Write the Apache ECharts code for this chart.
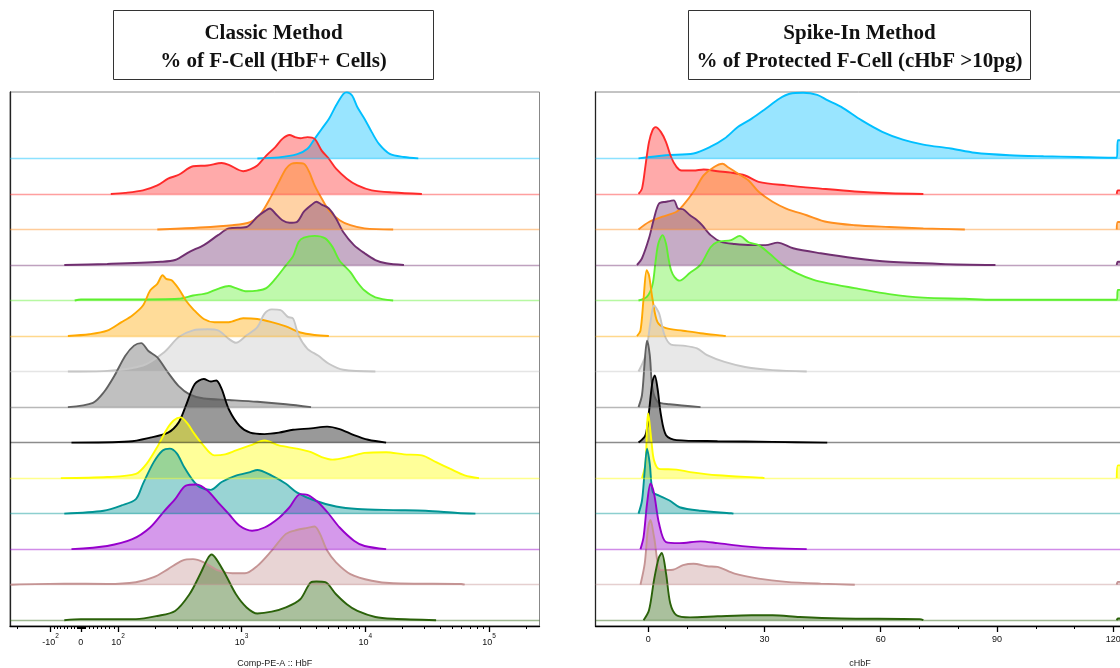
<!DOCTYPE html>
<html>
<head>
<meta charset="utf-8">
<script src="https://cdn.jsdelivr.net/npm/echarts@6/dist/echarts.min.js"></script>
<style>
html,body{margin:0;padding:0;background:#fff;}
#chart{width:1120px;height:668px;}
</style>
</head>
<body>
<div id="chart"></div>
<script>
// ---------- DATA ----------
// Sample order (top to bottom) and colours shared by both panels
const sampleColors = ['#00bfff','#ff2a2a','#ff8f1f','#702f70','#5ff030','#ffa800','#c6c6c6','#616161','#000000','#ffff00','#009494','#9600cc','#c59494','#2b620a'];

// Classic method: x = display position in decades (biexponential HbF axis), y = relative height
const classicCyan = [[3.127,0],[3.30,0.03],[3.45,0.12],[3.532,0.27],[3.590,0.55],[3.647,0.83],[3.705,1.11],[3.763,1.49],[3.821,1.81],[3.850,1.86],[3.893,1.77],[3.936,1.44],[3.994,1.11],[4.052,0.74],[4.110,0.41],[4.197,0.13],[4.312,0.04],[4.428,0]];
const classicRed = [[1.942,0],[2.058,0.03],[2.202,0.1],[2.318,0.24],[2.405,0.43],[2.491,0.54],[2.607,0.78],[2.723,0.80],[2.838,0.87],[2.896,0.82],[3.012,0.64],[3.069,0.69],[3.127,0.80],[3.199,1.08],[3.272,1.32],[3.329,1.55],[3.387,1.66],[3.431,1.60],[3.474,1.57],[3.532,1.60],[3.590,1.55],[3.647,1.22],[3.705,0.99],[3.763,0.71],[3.850,0.43],[3.936,0.24],[4.052,0.10],[4.225,0.04],[4.457,0]];
const classicOrange = [[2.318,0],[2.636,0.05],[2.925,0.12],[3.069,0.21],[3.156,0.45],[3.243,0.96],[3.301,1.34],[3.358,1.71],[3.402,1.85],[3.445,1.87],[3.503,1.85],[3.546,1.62],[3.590,1.24],[3.647,0.87],[3.705,0.54],[3.792,0.26],[3.879,0.12],[3.994,0.03],[4.225,0]];
const classicPurple = [[1.566,0],[1.913,0.03],[2.347,0.09],[2.462,0.14],[2.578,0.37],[2.694,0.56],[2.809,0.84],[2.896,1.03],[3.040,1.07],[3.127,1.36],[3.185,1.51],[3.228,1.59],[3.272,1.45],[3.329,1.26],[3.387,1.19],[3.445,1.21],[3.503,1.50],[3.561,1.68],[3.604,1.78],[3.647,1.70],[3.705,1.59],[3.763,1.31],[3.821,0.93],[3.908,0.56],[3.994,0.33],[4.081,0.14],[4.168,0.05],[4.312,0]];
const classicGreen = [[1.65,0],[1.70,0.03],[1.80,0.03],[2.10,0.03],[2.491,0.05],[2.607,0.14],[2.723,0.21],[2.809,0.33],[2.896,0.41],[2.954,0.35],[3.040,0.26],[3.127,0.28],[3.199,0.35],[3.272,0.61],[3.358,0.99],[3.416,1.25],[3.460,1.65],[3.503,1.77],[3.590,1.82],[3.676,1.75],[3.734,1.51],[3.792,1.12],[3.879,0.80],[3.936,0.51],[3.994,0.28],[4.081,0.09],[4.225,0]];
const classicGold = [[1.595,0],[1.769,0.05],[1.913,0.15],[2.029,0.39],[2.116,0.58],[2.202,0.86],[2.260,1.28],[2.318,1.47],[2.361,1.71],[2.390,1.61],[2.434,1.57],[2.491,1.33],[2.549,1.0],[2.607,0.76],[2.694,0.48],[2.780,0.39],[2.896,0.39],[3.012,0.50],[3.127,0.48],[3.243,0.39],[3.358,0.27],[3.474,0.10],[3.590,0.03],[3.705,0]];
const classicLightGray = [[1.595,0],[1.913,0.02],[2.202,0.17],[2.376,0.55],[2.491,0.97],[2.607,1.16],[2.723,1.19],[2.809,1.16],[2.896,0.92],[2.954,0.81],[3.040,1.02],[3.127,1.25],[3.185,1.63],[3.243,1.75],[3.315,1.73],[3.373,1.54],[3.416,1.49],[3.460,1.02],[3.532,0.64],[3.618,0.45],[3.705,0.22],[3.821,0.05],[4.081,0]];
const classicGray = [[1.595,0],[1.798,0.12],[1.884,0.41],[1.971,0.88],[2.058,1.44],[2.130,1.73],[2.188,1.80],[2.246,1.58],[2.318,1.40],[2.405,0.97],[2.491,0.59],[2.578,0.36],[2.694,0.24],[2.896,0.20],[3.127,0.15],[3.358,0.08],[3.561,0]];
const classicBlack = [[1.624,0],[2.087,0.03],[2.260,0.14],[2.405,0.28],[2.491,0.57],[2.549,1.04],[2.621,1.65],[2.694,1.79],[2.751,1.72],[2.795,1.75],[2.838,1.51],[2.896,0.94],[2.983,0.47],[3.069,0.28],[3.185,0.24],[3.301,0.28],[3.416,0.36],[3.561,0.40],[3.691,0.45],[3.792,0.38],[3.908,0.21],[4.023,0.08],[4.168,0]];
const classicYellow = [[1.538,0],[1.913,0.03],[2.145,0.12],[2.231,0.40],[2.318,0.88],[2.390,1.35],[2.45,1.62],[2.506,1.71],[2.56,1.55],[2.607,1.30],[2.679,0.97],[2.780,0.64],[2.867,0.67],[2.954,0.78],[3.069,0.92],[3.185,1.06],[3.301,0.92],[3.445,0.83],[3.561,0.73],[3.647,0.59],[3.734,0.52],[3.879,0.61],[3.994,0.71],[4.168,0.73],[4.312,0.67],[4.457,0.64],[4.572,0.45],[4.688,0.26],[4.803,0.08],[4.919,0]];
const classicTeal = [[1.566,0],[1.884,0.08],[2.029,0.23],[2.145,0.41],[2.202,0.84],[2.289,1.45],[2.361,1.78],[2.419,1.83],[2.477,1.69],[2.535,1.31],[2.607,0.93],[2.665,0.74],[2.751,0.67],[2.838,0.89],[2.954,1.07],[3.069,1.17],[3.127,1.23],[3.243,1.07],[3.358,0.84],[3.445,0.60],[3.590,0.37],[3.763,0.20],[3.936,0.13],[4.225,0.10],[4.486,0.08],[4.746,0.02],[4.890,0]];
const classicViolet = [[1.624,0],[1.913,0.09],[2.116,0.28],[2.260,0.61],[2.376,1.08],[2.462,1.41],[2.549,1.79],[2.636,1.82],[2.723,1.65],[2.809,1.32],[2.896,0.99],[2.983,0.66],[3.084,0.52],[3.185,0.61],[3.301,0.88],[3.387,1.18],[3.474,1.55],[3.532,1.53],[3.618,1.32],[3.705,0.99],[3.792,0.61],[3.908,0.24],[3.994,0.09],[4.168,0]];
const classicRosy = [[1.133,0],[1.566,0.03],[1.913,0.02],[2.145,0.07],[2.289,0.21],[2.405,0.44],[2.520,0.68],[2.607,0.72],[2.694,0.63],[2.809,0.40],[2.925,0.32],[3.026,0.32],[3.127,0.53],[3.243,0.96],[3.358,1.43],[3.445,1.54],[3.532,1.60],[3.590,1.64],[3.633,1.43],[3.691,0.96],[3.763,0.63],[3.879,0.30],[4.052,0.11],[4.225,0.04],[4.775,0.02],[4.803,0]];
const classicOlive = [[1.566,0],[1.70,0.03],[2.145,0.03],[2.318,0.12],[2.462,0.26],[2.578,0.73],[2.665,1.30],[2.723,1.72],[2.757,1.85],[2.795,1.72],[2.867,1.30],[2.954,0.73],[3.040,0.36],[3.127,0.19],[3.243,0.24],[3.358,0.36],[3.474,0.59],[3.561,1.07],[3.604,1.09],[3.676,1.07],[3.763,0.73],[3.850,0.45],[3.936,0.26],[4.081,0.09],[4.225,0.04],[4.572,0]];

// Spike-in method: x = cHbF (pg), y = relative height
const spikeCyan = [[-2.5,0],[4.6,0.09],[11.7,0.14],[16.1,0.33],[19.7,0.56],[23.2,0.89],[26.7,1.12],[30.3,1.40],[33.8,1.68],[36.5,1.82],[40.0,1.85],[43.6,1.79],[46.2,1.64],[49.8,1.45],[55.1,1.07],[60.4,0.75],[65.7,0.53],[71.0,0.39],[78.1,0.28],[84.3,0.16],[93.2,0.09],[102.0,0.06],[110.9,0.04],[119.8,0.02],[120.9,0.02],[121.2,0.51],[123,0.51]];
const spikeRed = [[-2.5,0],[-1.6,0.15],[-0.7,0.80],[0.2,1.46],[1.1,1.79],[1.9,1.88],[3.3,1.74],[4.6,1.46],[5.9,1.04],[7.3,0.76],[8.6,0.66],[11.7,0.66],[14.3,0.69],[17.9,0.64],[21.4,0.60],[25.0,0.52],[28.5,0.34],[35.6,0.24],[44.5,0.15],[53.3,0.07],[62.2,0.02],[71.0,0],[120.9,0],[121.2,0.1],[123,0.1]];
const spikeOrange = [[-2.5,0],[0.2,0.21],[3.7,0.36],[7.3,0.50],[9.0,0.68],[11.7,1.06],[14.3,1.52],[17.0,1.76],[19.2,1.85],[20.5,1.76],[23.2,1.57],[25.9,1.38],[28.5,1.06],[32.1,0.78],[35.6,0.59],[40.9,0.40],[46.2,0.21],[53.3,0.12],[62.2,0.07],[71.0,0.03],[81.7,0],[120.9,0],[121.2,0.21],[123,0.21]];
const spikePurple = [[-2.9,0],[-1.6,0.19],[0.2,0.75],[1.5,1.31],[2.8,1.73],[4.6,1.78],[6.6,1.82],[7.7,1.59],[9.0,1.57],[10.8,1.40],[12.6,1.26],[13.9,1.12],[16.1,0.84],[18.8,0.65],[22.3,0.59],[26.7,0.56],[30.3,0.56],[33.4,0.63],[37.4,0.47],[44.5,0.33],[53.3,0.19],[62.2,0.09],[75.5,0.03],[89.6,0],[120.9,0],[121.2,0.09],[123,0.09]];
const spikeGreen = [[-2.5,0],[-0.3,0.11],[1.1,0.44],[1.9,1.1],[2.6,1.6],[3.7,1.84],[4.6,1.6],[5.2,1.2],[5.9,0.85],[6.8,0.66],[8.1,0.56],[10.8,0.78],[13.5,1.01],[16.1,1.50],[17.9,1.65],[21.4,1.70],[23.6,1.82],[25.9,1.64],[28.5,1.56],[31.2,1.33],[34.7,1.0],[38.3,0.77],[42.7,0.58],[46.2,0.49],[53.3,0.35],[62.2,0.18],[71.0,0.08],[81.7,0.05],[88.8,0.02],[120.9,0.02],[121.2,0.3],[123,0.3]];
const spikeGold = [[-2.9,0],[-2.0,0.15],[-1.2,1.05],[-0.4,1.85],[0.2,1.71],[1.1,1.05],[2.4,0.39],[4.6,0.22],[9.0,0.15],[13.5,0.08],[19.2,0.01],[20,0]];
const spikeLightGray = [[-2.5,0],[-0.7,0.46],[0.6,1.40],[1.5,1.86],[2.8,1.64],[4.2,1.03],[5.9,0.76],[9.0,0.73],[12.6,0.65],[15.2,0.46],[19.7,0.27],[25.0,0.13],[32.1,0.04],[40.9,0]];
const spikeGray = [[-2.5,0],[-1.6,0.34],[-0.9,1.28],[-0.3,1.87],[0.4,1.47],[1.1,0.53],[2.4,0.15],[5.5,0.08],[13.5,0]];
const spikeBlack = [[-2.5,0],[-0.7,0.21],[0.2,0.87],[1.1,1.72],[1.7,1.89],[2.4,1.53],[3.3,0.77],[4.6,0.21],[7.3,0.07],[17.9,0.04],[32.1,0.02],[46.2,0]];
const spikeYellow = [[-1.6,0],[-0.7,0.41],[-0.3,1.5],[0.0,1.82],[0.3,1.6],[0.9,0.97],[1.5,0.50],[2.8,0.26],[7.3,0.24],[10.8,0.17],[17.9,0.08],[29.4,0.01],[30,0],[120.9,0],[121.2,0.36],[123,0.36]];
const spikeTeal = [[-2.5,0],[-1.6,0.37],[-0.9,1.22],[-0.3,1.83],[0.4,1.41],[1.2,0.60],[2.8,0.51],[5.5,0.37],[8.1,0.18],[13.5,0.08],[21.4,0.01],[22,0]];
const spikeViolet = [[-2.0,0],[-1.2,0.34],[-0.3,1.28],[0.6,1.85],[1.5,1.57],[2.8,0.72],[4.6,0.20],[8.1,0.17],[13.5,0.22],[17.9,0.17],[25.0,0.08],[32.1,0.03],[40.9,0]];
const spikeRosy = [[-2.0,0],[-0.9,0.59],[-0.1,1.54],[0.6,1.82],[1.5,1.35],[3.3,0.41],[6.4,0.42],[9.0,0.55],[11.7,0.59],[15.2,0.52],[17.9,0.50],[22.3,0.31],[28.5,0.17],[35.6,0.08],[44.5,0.03],[53.3,0],[120.9,0],[121.2,0.08],[123,0.08]];
const spikeOlive = [[-1.2,0],[0.2,0.28],[1.5,1.13],[2.7,1.75],[3.5,1.89],[4.6,1.32],[5.7,0.47],[7.3,0.14],[10.8,0.08],[17.9,0.11],[26.7,0.14],[32.1,0.14],[39.1,0.09],[49.8,0.05],[70.1,0.03],[71,0],[120.9,0],[121.2,0.05],[123,0.05]];

// Axis ticks
const classicTickPos = [1.455, 1.70, 2, 3, 4, 5];
const classicTickBase = ['-10', '0', '10', '10', '10', '10'];
const classicTickExp = ['2', '', '2', '3', '4', '5'];
const spikeTickPos = [0, 30, 60, 90, 120];
const spikeMinorPos = [10, 20, 40, 50, 70, 80, 100, 110];

const titlesLeft = ['Classic Method', '% of F-Cell (HbF+ Cells)'];
const titlesRight = ['Spike-In Method', '% of Protected F-Cell (cHbF >10pg)'];
const axisNames = ['Comp-PE-A :: HbF', 'cHbF'];

// ---------- BUILD ----------
const classicSets = [classicCyan, classicRed, classicOrange, classicPurple, classicGreen, classicGold, classicLightGray, classicGray, classicBlack, classicYellow, classicTeal, classicViolet, classicRosy, classicOlive];
const spikeSets = [spikeCyan, spikeRed, spikeOrange, spikePurple, spikeGreen, spikeGold, spikeLightGray, spikeGray, spikeBlack, spikeYellow, spikeTeal, spikeViolet, spikeRosy, spikeOlive];
const N = classicSets.length;

// minor tick positions of the biexponential axis
const zeroPos = classicTickPos[1];
const classicMinor = [1.183];
for (let m = 1; m <= 9; m++) {
  classicMinor.push(zeroPos - m * 0.0272, zeroPos + m * 0.0333);
  classicMinor.push(zeroPos - m * 0.0031, zeroPos + m * 0.0031);
}
for (let d = 2; d <= 4; d++) for (let m = 2; m <= 9; m++) classicMinor.push(d + Math.log10(m));
classicMinor.push(5 + Math.log10(2));

function ridgeSeries(arr, k, xi, yi) {
  const base = N - 1 - k;
  const c = sampleColors[k];
  const data = [];
  arr.forEach((p, i) => {
    data.push([p[0], base + p[1]]);
    // break the outline across empty stretches (drawn only as the thin baseline)
    if (i < arr.length - 1 && p[1] === 0 && arr[i + 1][1] === 0) data.push([p[0], '-']);
  });
  return {
    type: 'line', xAxisIndex: xi, yAxisIndex: yi,
    data: data, connectNulls: false,
    smooth: 0.3, symbol: 'none', showSymbol: false,
    lineStyle: { color: c, width: 1.9 },
    areaStyle: { color: c, opacity: 0.4, origin: base },
    markLine: {
      silent: true, symbol: 'none', animation: false,
      label: { show: false },
      lineStyle: { color: c, width: 1.3, type: 'solid', opacity: 0.45 },
      emphasis: { disabled: true },
      data: [{ yAxis: base }]
    },
    emphasis: { disabled: true },
    animation: false
  };
}

const series = [];
classicSets.forEach((a, k) => series.push(ridgeSeries(a, k, 0, 0)));
spikeSets.forEach((a, k) => series.push(ridgeSeries(a, k, 2, 1)));

const sansFont = 'Liberation Sans, Arial, sans-serif';
const serifFont = 'Liberation Serif, Times New Roman, serif';
const richSup = {
  b: { fontSize: 9, lineHeight: 14, verticalAlign: 'bottom', fontFamily: sansFont, color: '#111' },
  s: { fontSize: 6.5, lineHeight: 14, verticalAlign: 'top', fontFamily: sansFont, color: '#111' }
};

const yMin = -0.163, yMax = 14.87;
function yAx(gi) {
  return {
    type: 'value', gridIndex: gi, min: yMin, max: yMax,
    axisLine: { show: true, onZero: false, lineStyle: { color: '#222', width: 1.3 } },
    axisTick: { show: false }, axisLabel: { show: false }, splitLine: { show: false }
  };
}
function titleText(x, y, t) {
  return { type: 'text', x: x, y: y, style: { text: t, fontSize: 21, fontWeight: 'bold', fontFamily: serifFont, fill: '#111', align: 'center', verticalAlign: 'middle', textAlign: 'center', textVerticalAlign: 'middle' } };
}

const option = {
  animation: false,
  backgroundColor: '#fff',
  grid: [
    { left: 10, top: 92, width: 529.5, height: 534, show: true, borderColor: '#888', borderWidth: 1, containLabel: false, outerBoundsMode: 'none' },
    { left: 595.5, top: 92, width: 529, height: 534, show: true, borderColor: '#888', borderWidth: 1, containLabel: false, outerBoundsMode: 'none' }
  ],
  xAxis: [
    {
      type: 'value', gridIndex: 0, min: 1.127, max: 5.408,
      name: axisNames[0], nameLocation: 'middle', nameGap: 33,
      nameTextStyle: { fontSize: 9, color: '#222', fontFamily: sansFont },
      axisLine: { show: true, onZero: false, lineStyle: { color: '#000', width: 1.3 } },
      axisTick: { show: true, customValues: classicTickPos, length: 6, lineStyle: { color: '#000', width: 1.3 } },
      axisLabel: {
        show: true, customValues: classicTickPos, margin: 7,
        formatter: function (v) {
          let i = classicTickPos.findIndex(p => Math.abs(p - v) < 1e-6);
          if (i < 0) return '';
          return classicTickExp[i] ? '{b|' + classicTickBase[i] + '}{s|' + classicTickExp[i] + '}' : '{b|' + classicTickBase[i] + '}';
        },
        rich: richSup
      },
      splitLine: { show: false }
    },
    {
      type: 'value', gridIndex: 0, min: 1.127, max: 5.408, position: 'bottom',
      axisLine: { show: false, onZero: false },
      axisTick: { show: true, customValues: classicMinor, length: 3, lineStyle: { color: '#000', width: 1 } },
      axisLabel: { show: false }, splitLine: { show: false }
    },
    {
      type: 'value', gridIndex: 1, min: -13.6, max: 122.9,
      name: axisNames[1], nameLocation: 'middle', nameGap: 33,
      nameTextStyle: { fontSize: 9, color: '#222', fontFamily: sansFont },
      axisLine: { show: true, onZero: false, lineStyle: { color: '#000', width: 1.3 } },
      axisTick: { show: true, customValues: spikeTickPos, length: 6, lineStyle: { color: '#000', width: 1.3 } },
      axisLabel: { show: true, customValues: spikeTickPos, margin: 9, fontSize: 9, fontFamily: sansFont, color: '#111' },
      splitLine: { show: false }
    },
    {
      type: 'value', gridIndex: 1, min: -13.6, max: 122.9, position: 'bottom',
      axisLine: { show: false, onZero: false },
      axisTick: { show: true, customValues: spikeMinorPos, length: 3, lineStyle: { color: '#000', width: 1 } },
      axisLabel: { show: false }, splitLine: { show: false }
    }
  ],
  yAxis: [yAx(0), yAx(1)],
  series: series,
  graphic: [
    { type: 'rect', shape: { x: 113.5, y: 10.5, width: 320, height: 69 }, style: { fill: '#fff', stroke: '#333', lineWidth: 1 } },
    titleText(273.5, 33.5, titlesLeft[0]),
    titleText(273.5, 61.5, titlesLeft[1]),
    { type: 'rect', shape: { x: 688.5, y: 10.5, width: 342, height: 69 }, style: { fill: '#fff', stroke: '#333', lineWidth: 1 } },
    titleText(859.5, 33.5, titlesRight[0]),
    titleText(859.5, 61.5, titlesRight[1])
  ]
};

const chart = echarts.init(document.getElementById('chart'), null, { renderer: 'canvas' });
chart.setOption(option);
</script>
</body>
</html>
